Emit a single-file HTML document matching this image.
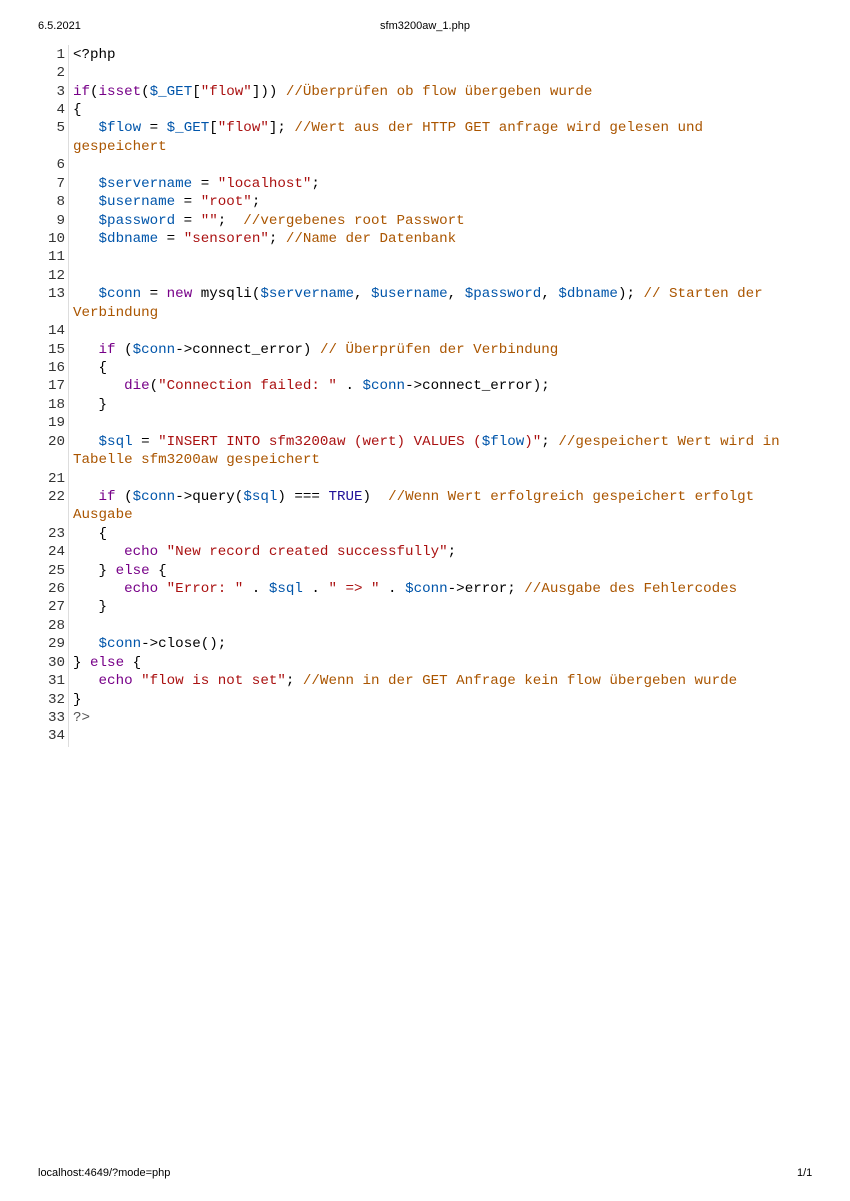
<!DOCTYPE html>
<html><head><meta charset="utf-8"><style>
html,body{margin:0;padding:0;background:#fff;width:850px;height:1201px;overflow:hidden;position:relative}
.hd{position:absolute;font-family:"Liberation Sans",sans-serif;font-size:11px;color:#000;line-height:13px}
#code{position:absolute;left:0;top:45.8px;width:850px;font-family:"Liberation Mono",monospace;font-size:14.2px;line-height:18.43px;color:#000}
.r{position:relative;height:18.43px}
.n{position:absolute;left:0;width:65px;text-align:right;color:#333;white-space:pre}
.t{position:absolute;left:73px;white-space:pre}
#gut{position:absolute;left:68px;top:45px;width:1px;height:702px;background:#ddd}
.k{color:#708}.v{color:#05a}.s{color:#a11}.c{color:#a50}.a{color:#219}
</style></head><body>
<div class="hd" style="left:38px;top:20px">6.5.2021</div>
<div class="hd" style="left:0;width:850px;text-align:center;top:20px">sfm3200aw_1.php</div>
<div class="hd" style="left:38px;top:1167px">localhost:4649/?mode=php</div>
<div class="hd" style="left:797px;top:1167px">1/1</div>
<div id="gut"></div>
<div id="code">
<div class="r"><span class="n">1</span><span class="t">&lt;?php</span></div>
<div class="r"><span class="n">2</span><span class="t"></span></div>
<div class="r"><span class="n">3</span><span class="t"><span class="k">if</span>(<span class="k">isset</span>(<span class="v">$_GET</span>[<span class="s">"flow"</span>])) <span class="c">//Überprüfen ob flow übergeben wurde</span></span></div>
<div class="r"><span class="n">4</span><span class="t">{</span></div>
<div class="r"><span class="n">5</span><span class="t">   <span class="v">$flow</span> = <span class="v">$_GET</span>[<span class="s">"flow"</span>]; <span class="c">//Wert aus der HTTP GET anfrage wird gelesen und</span></span></div>
<div class="r"><span class="t"><span class="c">gespeichert</span></span></div>
<div class="r"><span class="n">6</span><span class="t"></span></div>
<div class="r"><span class="n">7</span><span class="t">   <span class="v">$servername</span> = <span class="s">"localhost"</span>;</span></div>
<div class="r"><span class="n">8</span><span class="t">   <span class="v">$username</span> = <span class="s">"root"</span>;</span></div>
<div class="r"><span class="n">9</span><span class="t">   <span class="v">$password</span> = <span class="s">""</span>;  <span class="c">//vergebenes root Passwort</span></span></div>
<div class="r"><span class="n">10</span><span class="t">   <span class="v">$dbname</span> = <span class="s">"sensoren"</span>; <span class="c">//Name der Datenbank</span></span></div>
<div class="r"><span class="n">11</span><span class="t"></span></div>
<div class="r"><span class="n">12</span><span class="t"></span></div>
<div class="r"><span class="n">13</span><span class="t">   <span class="v">$conn</span> = <span class="k">new</span> mysqli(<span class="v">$servername</span>, <span class="v">$username</span>, <span class="v">$password</span>, <span class="v">$dbname</span>); <span class="c">// Starten der</span></span></div>
<div class="r"><span class="t"><span class="c">Verbindung</span></span></div>
<div class="r"><span class="n">14</span><span class="t"></span></div>
<div class="r"><span class="n">15</span><span class="t">   <span class="k">if</span> (<span class="v">$conn</span>-&gt;connect_error) <span class="c">// Überprüfen der Verbindung</span></span></div>
<div class="r"><span class="n">16</span><span class="t">   {</span></div>
<div class="r"><span class="n">17</span><span class="t">      <span class="k">die</span>(<span class="s">"Connection failed: "</span> . <span class="v">$conn</span>-&gt;connect_error);</span></div>
<div class="r"><span class="n">18</span><span class="t">   }</span></div>
<div class="r"><span class="n">19</span><span class="t"></span></div>
<div class="r"><span class="n">20</span><span class="t">   <span class="v">$sql</span> = <span class="s">"INSERT INTO sfm3200aw (wert) VALUES (<span class="v">$flow</span>)"</span>; <span class="c">//gespeichert Wert wird in</span></span></div>
<div class="r"><span class="t"><span class="c">Tabelle sfm3200aw gespeichert</span></span></div>
<div class="r"><span class="n">21</span><span class="t"></span></div>
<div class="r"><span class="n">22</span><span class="t">   <span class="k">if</span> (<span class="v">$conn</span>-&gt;query(<span class="v">$sql</span>) === <span class="a">TRUE</span>)  <span class="c">//Wenn Wert erfolgreich gespeichert erfolgt</span></span></div>
<div class="r"><span class="t"><span class="c">Ausgabe</span></span></div>
<div class="r"><span class="n">23</span><span class="t">   {</span></div>
<div class="r"><span class="n">24</span><span class="t">      <span class="k">echo</span> <span class="s">"New record created successfully"</span>;</span></div>
<div class="r"><span class="n">25</span><span class="t">   } <span class="k">else</span> {</span></div>
<div class="r"><span class="n">26</span><span class="t">      <span class="k">echo</span> <span class="s">"Error: "</span> . <span class="v">$sql</span> . <span class="s">" =&gt; "</span> . <span class="v">$conn</span>-&gt;error; <span class="c">//Ausgabe des Fehlercodes</span></span></div>
<div class="r"><span class="n">27</span><span class="t">   }</span></div>
<div class="r"><span class="n">28</span><span class="t"></span></div>
<div class="r"><span class="n">29</span><span class="t">   <span class="v">$conn</span>-&gt;close();</span></div>
<div class="r"><span class="n">30</span><span class="t">} <span class="k">else</span> {</span></div>
<div class="r"><span class="n">31</span><span class="t">   <span class="k">echo</span> <span class="s">"flow is not set"</span>; <span class="c">//Wenn in der GET Anfrage kein flow übergeben wurde</span></span></div>
<div class="r"><span class="n">32</span><span class="t">}</span></div>
<div class="r"><span class="n">33</span><span class="t"><span style="color:#555">?&gt;</span></span></div>
<div class="r"><span class="n">34</span><span class="t"></span></div>
</div>
</body></html>
